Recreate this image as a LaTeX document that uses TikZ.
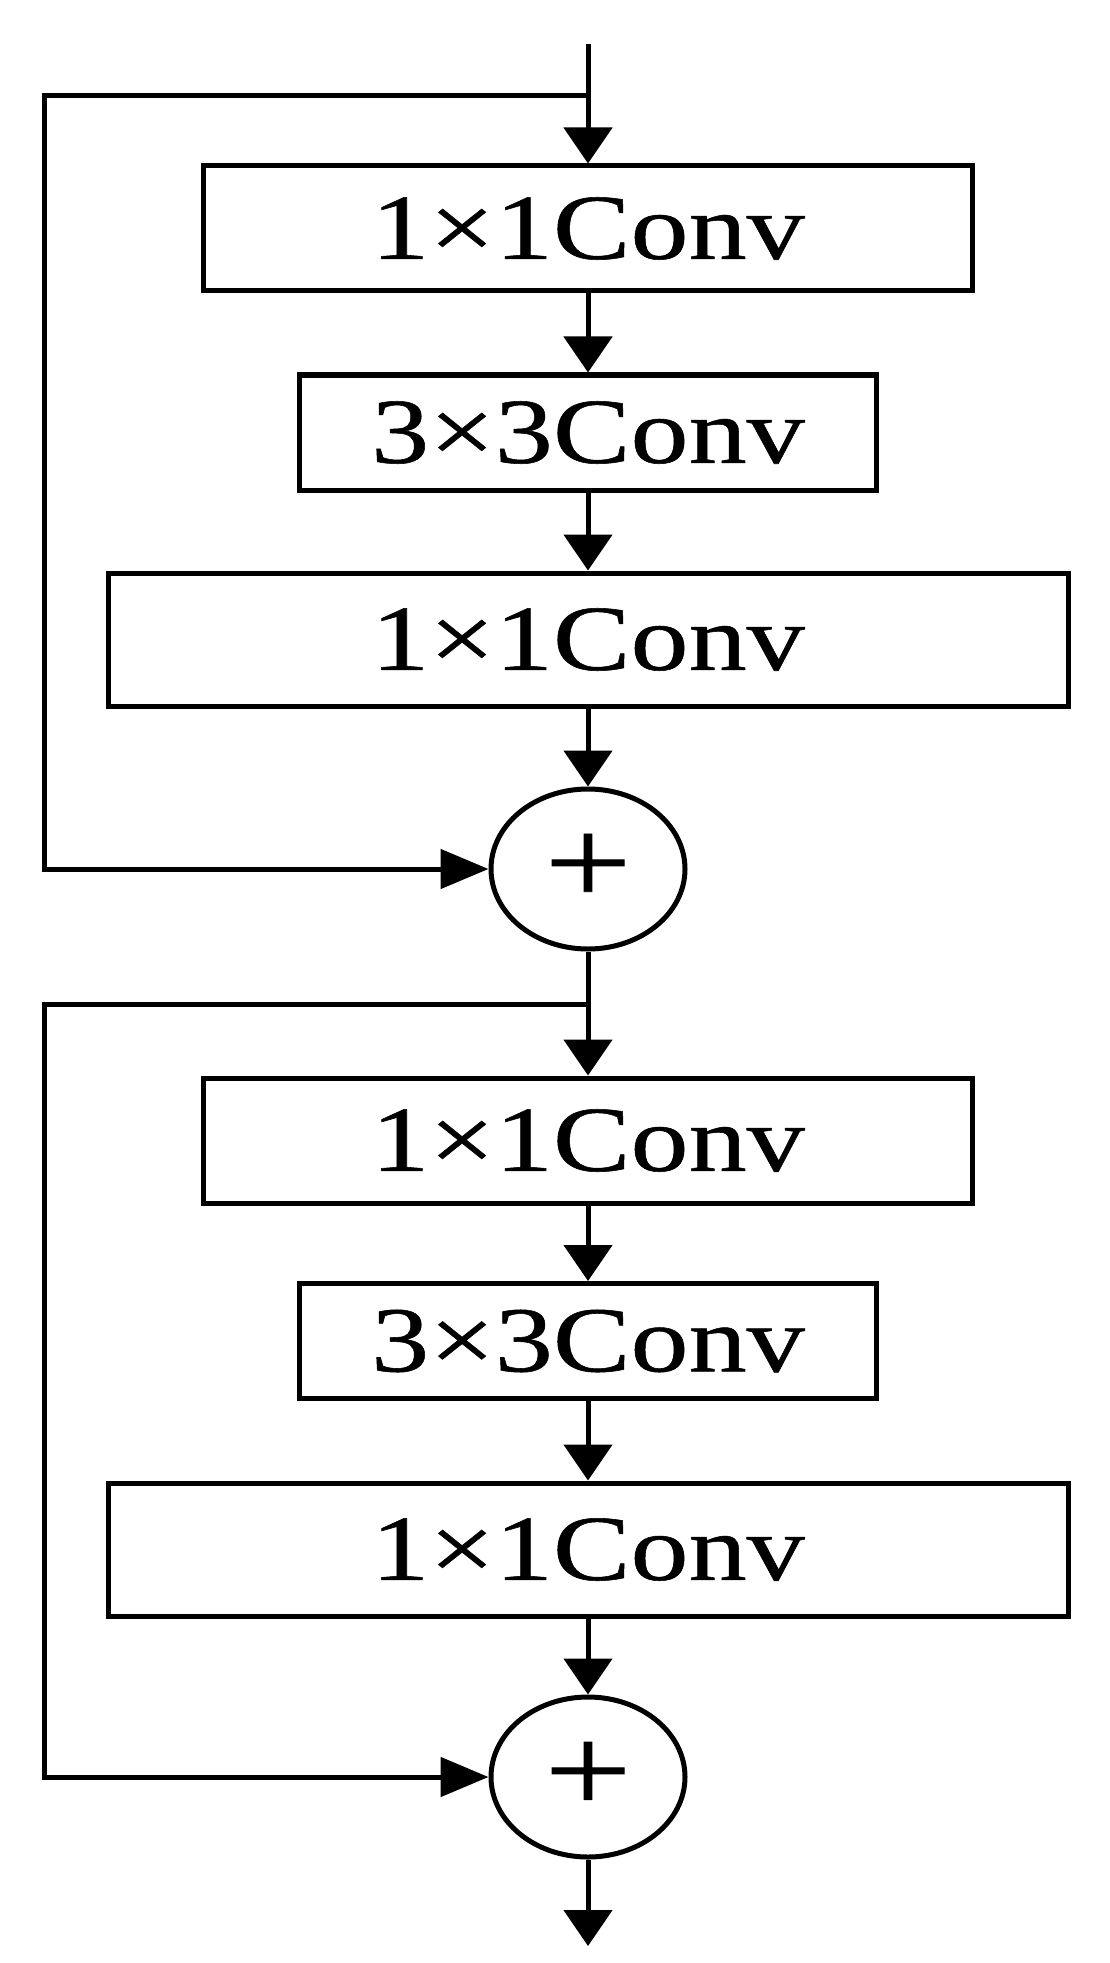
\documentclass[tikz,border=0pt]{standalone}
\usepackage{fontspec}
\setmainfont{Liberation Serif}[FakeStretch=1.25,FakeBold=0.6]
\usetikzlibrary{arrows.meta,shapes.geometric}

\begin{document}
\begin{tikzpicture}[x=0.5pt,y=-0.5pt,line width=2.5pt,
  convbox/.style={draw,inner sep=0pt,font=\fontsize{46.5}{50}\selectfont},
  addnode/.style={draw,ellipse,inner sep=0pt,minimum width=97pt,minimum height=80pt,font=\fontsize{62}{64}\selectfont},
  down/.style={-{Triangle[length=18pt,width=24pt]}},
  side/.style={-{Triangle[length=24pt,width=19.5pt]}}]
  \useasboundingbox (0,0) rectangle (1109,1963);
  % first block
  \coordinate (in) at (588,44);
  \coordinate (b1) at (588,96);
  \coordinate (k1) at (44,96);
  \node[convbox,minimum width=384.5pt,minimum height=62.5pt] at (588,228.5) (c1) {1×1Conv};
  \node[convbox,minimum width=288.5pt,minimum height=57.5pt] at (588,432.5) (c2) {3×3Conv};
  \node[convbox,minimum width=480pt,minimum height=66.5pt] at (588,639.5) (c3) {1×1Conv};
  \node[addnode] at (588,869) (s1) {+};
  % second block
  \coordinate (b2) at (588,1004);
  \coordinate (k2) at (44,1004);
  \node[convbox,minimum width=384.5pt,minimum height=62.5pt] at (588,1140.5) (c4) {1×1Conv};
  \node[convbox,minimum width=288.5pt,minimum height=57.5pt] at (588,1341) (c5) {3×3Conv};
  \node[convbox,minimum width=480pt,minimum height=66.5pt] at (588,1549.5) (c6) {1×1Conv};
  \node[addnode] at (588,1777) (s2) {+};
  \coordinate (out) at (588,1946);
  % connectors
  \draw[down] (in) -- (c1);
  \draw[down] (c1) -- (c2);
  \draw[down] (c2) -- (c3);
  \draw[down] (c3) -- (s1);
  \draw[side] (b1) -- (k1) |- (s1);
  \draw[down] (s1) -- (c4);
  \draw[down] (c4) -- (c5);
  \draw[down] (c5) -- (c6);
  \draw[down] (c6) -- (s2);
  \draw[side] (b2) -- (k2) |- (s2);
  \draw[down] (s2) -- (out);
\end{tikzpicture}
\end{document}
